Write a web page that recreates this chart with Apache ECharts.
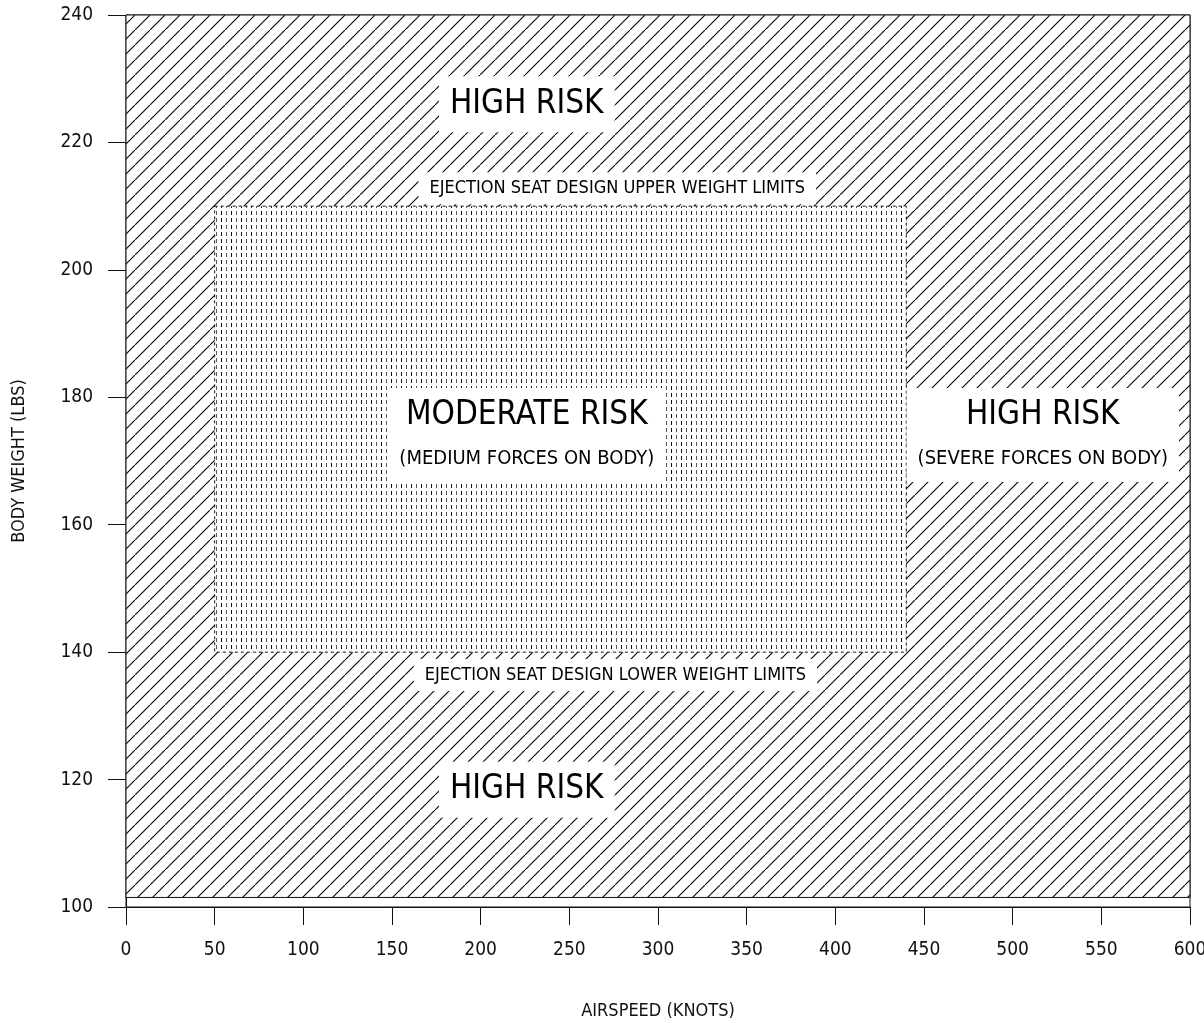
<!DOCTYPE html>
<html>
<head>
<meta charset="utf-8">
<script src="https://cdn.jsdelivr.net/npm/echarts@6/dist/echarts.min.js"></script>
<style>
html, body { margin: 0; padding: 0; background: #fff; }
#main { width: 1204px; height: 1023px; }
</style>
</head>
<body>
<div id="main"></div>
<script>
var FONT = "'Liberation Sans Narrow', 'DejaVu Sans Condensed', 'Liberation Sans', sans-serif";

// zones: [x0, x1, y0, y1] in knots / lbs
var highRiskZone = [0, 600, 101.5, 240];
var moderateZone = [50, 440, 140, 210];

// text labels, anchored at data coordinates
var labelX = [226, 277, 226, 517, 276, 226];
var labelY = [226, 212.8, 174.1, 174.1, 136.4, 118.4];
var labelTitle = ['HIGH RISK', 'EJECTION SEAT DESIGN UPPER WEIGHT LIMITS', 'MODERATE RISK',
                  'HIGH RISK', 'EJECTION SEAT DESIGN LOWER WEIGHT LIMITS', 'HIGH RISK'];
var labelNote = ['', '', '(MEDIUM FORCES ON BODY)', '(SEVERE FORCES ON BODY)', '', ''];

// hatch tile: thin "/" lines
function hatchTile() {
  var c = document.createElement('canvas');
  c.width = 15; c.height = 15;
  var g = c.getContext('2d');
  g.fillStyle = '#fff';
  g.fillRect(0, 0, 15, 15);
  g.strokeStyle = '#000';
  g.lineWidth = 1.1;
  g.beginPath();
  g.moveTo(-1, 16); g.lineTo(16, -1);
  g.stroke();
  return c;
}
// dotted tile: short vertical dashes
function dotTile() {
  var c = document.createElement('canvas');
  c.width = 10; c.height = 7;
  var g = c.getContext('2d');
  g.fillStyle = '#fff';
  g.fillRect(0, 0, 10, 7);
  g.fillStyle = '#111';
  g.fillRect(1, 1, 1, 4);
  g.fillStyle = '#555';
  g.fillRect(6, 1, 1, 4);
  return c;
}

var chart = echarts.init(document.getElementById('main'));

function zoneItem(params, api) {
  var p0 = api.coord([api.value(0), api.value(3)]);
  var p1 = api.coord([api.value(1), api.value(2)]);
  var dotted = params.dataIndex === 1;
  var shape = { x: p0[0], y: p0[1], width: p1[0] - p0[0], height: p1[1] - p0[1] };
  return {
    type: 'group',
    children: [
      { type: 'rect', shape: shape,
        style: { fill: { image: dotted ? dotTile() : hatchTile(), repeat: 'repeat' } } },
      { type: 'rect', shape: shape,
        style: { fill: null, stroke: '#111', lineWidth: 1, lineDash: dotted ? [3, 3] : null } }
    ]
  };
}

var labelData = labelTitle.map(function (t, i) {
  var style = t.length > 20 ? 'small' : 'big';
  var txt = '{' + style + '|' + t + '}';
  if (labelNote[i]) txt += '\n{note|' + labelNote[i] + '}';
  return { value: [labelX[i], labelY[i]], label: { formatter: txt } };
});

var axisCommon = {
  axisLine: { show: true, lineStyle: { color: '#111', width: 1 } },
  axisTick: { show: true, length: 18, lineStyle: { color: '#111' } },
  splitLine: { show: false },
  nameTextStyle: { color: '#111', fontFamily: FONT, fontSize: 18 }
};

var option = {
  backgroundColor: '#fff',
  animation: false,
  grid: {
    left: 126, right: 14, top: 15, bottom: 116,
    outerBoundsMode: 'none', containLabel: false,
    show: true, borderColor: '#111', borderWidth: 1
  },
  xAxis: Object.assign({
    type: 'value', min: 0, max: 600, interval: 50,
    name: 'AIRSPEED (KNOTS)', nameLocation: 'middle', nameGap: 95,
    axisLabel: { margin: 34, color: '#111', fontFamily: FONT, fontSize: 19 }
  }, axisCommon),
  yAxis: Object.assign({
    type: 'value', min: 100, max: 240, interval: 20,
    name: 'BODY WEIGHT (LBS)', nameLocation: 'middle', nameGap: 98,
    axisLabel: { margin: 33, color: '#111', fontFamily: FONT, fontSize: 19 }
  }, axisCommon),
  series: [
    {
      type: 'custom',
      renderItem: zoneItem,
      data: [highRiskZone, moderateZone],
      silent: true,
      z: 1
    },
    {
      type: 'scatter',
      symbolSize: 0,
      data: labelData,
      silent: true,
      z: 5,
      itemStyle: { opacity: 1 },
      label: {
        show: true,
        position: 'inside',
        color: '#000',
        opacity: 1,
        backgroundColor: '#fff',
        padding: [4, 11],
        align: 'center',
        rich: {
          big: { fontFamily: FONT, fontSize: 33, lineHeight: 48, color: '#000' },
          small: { fontFamily: FONT, fontSize: 18, lineHeight: 24, color: '#000' },
          note: { fontFamily: FONT, fontSize: 20, lineHeight: 38, color: '#000' }
        }
      }
    }
  ]
};

chart.setOption(option);
</script>
</body>
</html>
